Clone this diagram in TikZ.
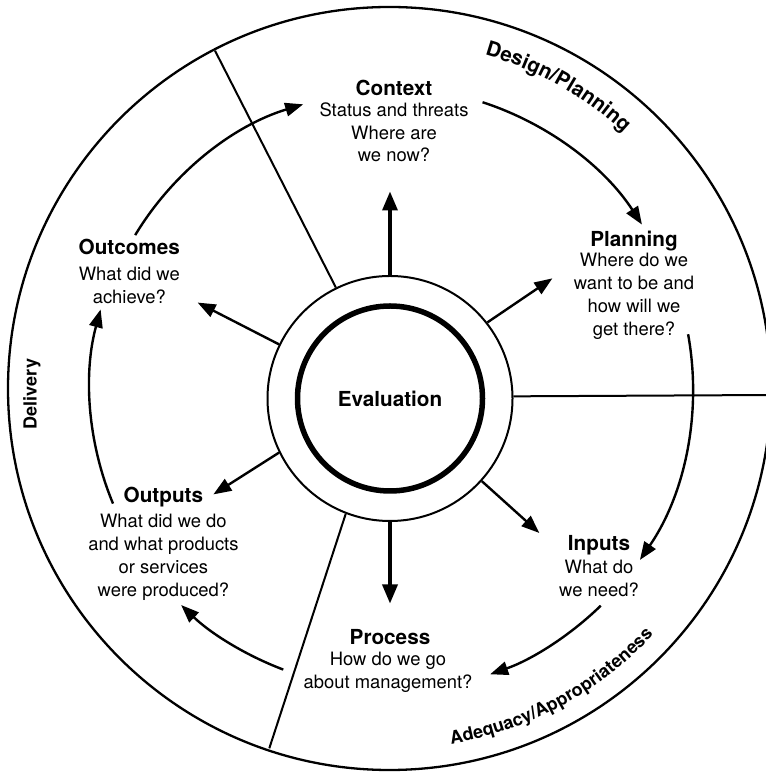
\documentclass[tikz,border=0pt]{standalone}
\usepackage{fontspec}
\setmainfont{TeX Gyre Heros}
\usetikzlibrary{arrows.meta,decorations.text}

\newcommand\headfont{\fontsize{20.7}{25}\selectfont\bfseries}
\newcommand\bodyfont{\fontsize{18.4}{22.7}\selectfont}
\newcommand\rimfont{\fontsize{18}{20}\selectfont\bfseries}
\newcommand\rimfontlarge{\fontsize{20.5}{22}\selectfont\bfseries}

\begin{document}
\begin{tikzpicture}[x=1pt,y=1pt,
  rim/.style={line width=2.3pt},
  divider/.style={line width=2pt},
  cycle arrow/.style={line width=2.4pt,-{Triangle[length=18pt,width=13.5pt]}},
  spoke/.style={line width=2.4pt,-{Triangle[length=18pt,width=13.5pt]}},
  main spoke/.style={line width=3.4pt,-{Triangle[length=19pt,width=15pt]}},
  head/.style={font=\headfont,inner sep=0pt,anchor=base},
  % multi-line texts: the base anchor sits on the last line
  body/.style={font=\bodyfont,inner sep=0pt,anchor=base,align=center},
  rimtext/.style={decorate,decoration={text along path,text align=center,text={#1}}}]

\useasboundingbox (0,0) rectangle (765,773);

% centres of the outer wheel and of the evaluation hub
\coordinate (cout) at (389.5,384.5);
\coordinate (cin) at (390,374.5);

% outer wheel
\draw[rim] (cout) circle[radius=381.5];

% hub: ring and evaluation core
\node[circle,draw,line width=2pt,minimum size=245pt,inner sep=0pt] (ring) at (cin) {};
\node[circle,draw,line width=5.5pt,minimum size=185pt,inner sep=0pt,font=\headfont] (eval) at (cin) {Evaluation};

% sector dividers
\coordinate (d1) at (215,722.3);
\coordinate (d2) at (269.3,24.7);
\coordinate (d3) at (771,378);
\draw[divider] (ring.116.5) -- (d1);
\draw[divider] (ring.249) -- (d2);
\draw[divider] (ring.1.6) -- (d3);

% stage texts
\node[head] (ctxT) at (394,677.8) {Context};
\node[body] (ctxB) at (394,611.2) {Status and threats\\Where are\\we now?};
\node[head] (plnT) at (634,526.6) {Planning};
\node[body] (plnB) at (634,437.9) {Where do we\\want to be and\\how will we\\get there?};
\node[head] (inpT) at (599,222.6) {Inputs};
\node[body] (inpB) at (599,176.8) {What do\\we need?};
\node[head] (prcT) at (390,128.5) {Process};
\node[body] (prcB) at (388,84.7) {How do we go\\about management?};
\node[head] (outpT) at (163.4,270.5) {Outputs};
\node[body] (outpB) at (163.4,176.9) {What did we do\\and what products\\or services\\were produced?};
\node[head] (outcT) at (129.3,518.2) {Outcomes};
\node[body] (outcB) at (129.3,469.9) {What did we\\achieve?};

% spokes from the hub
\coordinate (tipCtx) at ([shift={(90:207)}]cin);
\coordinate (tipPln) at ([shift={(36.5:202)}]cin);
\coordinate (tipInp) at ([shift={(318:201)}]cin);
\coordinate (tipPrc) at ([shift={(270:205)}]cin);
\coordinate (tipOutp) at ([shift={(208.5:201)}]cin);
\coordinate (tipOutc) at ([shift={(153.5:215)}]cin);
\draw[main spoke] (ring.90) -- (tipCtx);
\draw[spoke] (ring.38) -- (tipPln);
\draw[spoke] (ring.318) -- (tipInp);
\draw[main spoke] (ring.270) -- (tipPrc);
\draw[spoke] (ring.206.5) -- (tipOutp);
\draw[spoke] (ring.154.5) -- (tipOutc);

% clockwise cycle between the stages
\coordinate (aS) at ([shift={(72:301)}]cout);
\coordinate (bS) at ([shift={(10.3:303.5)}]cout);
\coordinate (cS) at ([shift={(-45.8:303)}]cout);
\coordinate (dS) at ([shift={(249.3:300.5)}]cout);
\coordinate (eS) at ([shift={(202.6:299.5)}]cout);
\coordinate (fS) at ([shift={(148.9:297)}]cout);
\draw[cycle arrow] (aS) arc[start angle=72,end angle=33,radius=301];
\draw[cycle arrow] (bS) arc[start angle=10.3,end angle=-34.4,radius=303.5];
\draw[cycle arrow] (cS) arc[start angle=-45.8,end angle=-70.6,radius=303];
\draw[cycle arrow] (dS) arc[start angle=249.3,end angle=226.1,radius=300.5];
\draw[cycle arrow] (eS) arc[start angle=202.6,end angle=164.7,radius=299.5];
\draw[cycle arrow] (fS) arc[start angle=148.9,end angle=106.9,radius=297];

% labels on the rim
\path[rimtext={|\rimfontlarge|Design/Planning}] ([shift={(79:347)}]cout) arc[start angle=79,end angle=42.6,radius=347];
\path[rimtext={|\rimfont|Adequacy/Appropriateness}] ([shift={(-84:361)}]cout) arc[start angle=-84,end angle=-39.2,radius=361];
\node[font=\rimfont,rotate=90] (deliv) at (32,379) {Delivery};

\end{tikzpicture}
\end{document}
